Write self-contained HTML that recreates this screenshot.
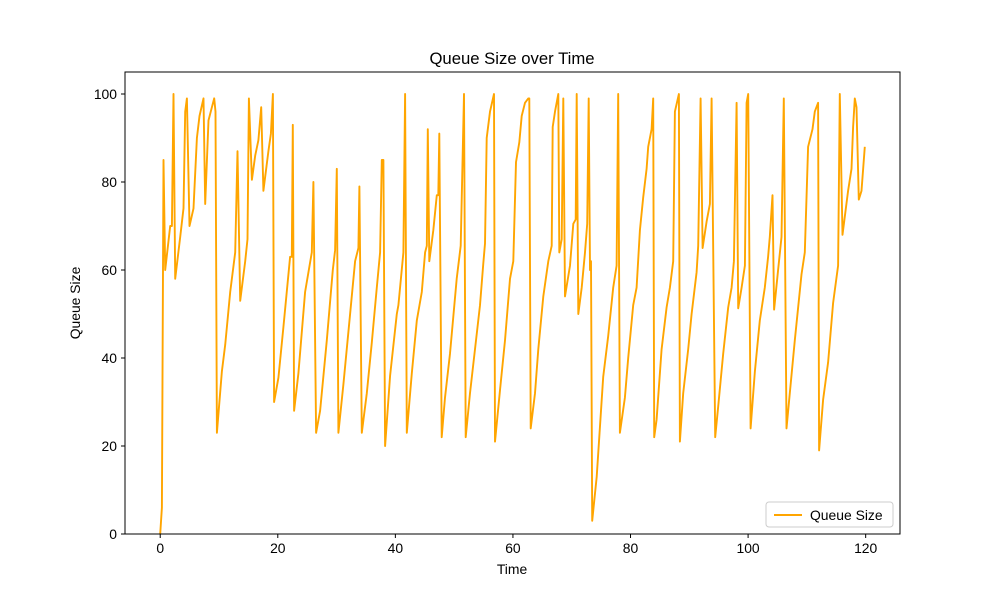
<!DOCTYPE html>
<html><head><meta charset="utf-8"><style>
body{margin:0;background:#fff;}
svg{display:block;font-family:"Liberation Sans","DejaVu Sans",sans-serif;}
</style></head><body>
<svg id="chart" width="1000" height="600">
<rect width="1000" height="600" fill="#fff"/>
<text x="512" y="64" text-anchor="middle" font-size="16.7">Queue Size over Time</text>
<text x="512" y="574" text-anchor="middle" font-size="13.9">Time</text>
<text transform="translate(80,303) rotate(-90)" text-anchor="middle" font-size="13.9">Queue Size</text>
<g id="ticks"></g>
<clipPath id="clip"><rect x="125" y="72" width="775" height="462"/></clipPath>
<polyline id="series" fill="none" stroke="#ffa500" stroke-width="1.9" stroke-linejoin="round" clip-path="url(#clip)"/>
<rect x="125" y="72" width="775" height="462" fill="none" stroke="#000" stroke-width="1"/>
<g>
<rect x="766" y="502" width="127" height="25" rx="3" fill="#fff" stroke="#ccc"/>
<line x1="774" y1="515" x2="802" y2="515" stroke="#ffa500" stroke-width="1.9"/>
<text x="810" y="520" font-size="13.9">Queue Size</text>
</g>
</svg>
<script>
const times=[0,0.29,0.56,0.85,1.70,1.99,2.26,2.55,3.40,3.96,4.25,4.54,4.98,5.66,6.24,6.68,7.36,7.65,8.21,8.79,9.18,9.40,9.64,10.49,11.05,11.9,12.75,13.14,13.6,14.45,14.84,15.08,15.59,16.15,16.71,17.17,17.56,18.41,18.82,19.16,19.38,20.11,20.96,22.1,22.39,22.56,22.78,23.51,24.65,25.79,26.06,26.52,27.2,28.34,29.36,29.75,30.04,30.31,31.16,32.3,33.15,33.71,33.88,34.29,35.14,35.99,36.84,37.4,37.69,37.96,38.25,39.1,40.24,40.51,41.36,41.65,41.94,42.79,43.64,44.49,45.05,45.34,45.51,45.78,46.46,47.04,47.31,47.48,47.89,48.45,49.3,50.44,51.12,51.68,51.97,52.7,53.55,54.4,54.96,55.25,55.54,56.1,56.78,56.95,57.8,58.65,59.5,60.06,60.52,61.08,61.49,62.05,62.61,62.78,63.02,63.75,64.31,65.16,66.01,66.59,66.76,67.15,67.71,67.88,68.29,68.56,68.85,69.7,70.26,70.67,70.84,71.11,71.69,72.25,72.64,72.88,73.1,73.27,73.49,74.24,75.36,76.21,77.06,77.64,77.91,78.2,79.05,79.61,80.46,81.04,81.6,82.16,82.74,83.01,83.59,83.86,84.03,84.44,85.29,86.14,86.7,87.26,87.55,88.23,88.4,88.96,89.81,90.39,91.24,91.51,91.92,92.26,92.94,93.5,93.79,94.4,94.91,95.76,96.61,97.19,97.58,98.04,98.31,98.89,99.45,99.74,100.01,100.42,101.15,102,102.85,103.41,103.7,104.16,104.43,105.11,105.69,106.08,106.54,107.1,107.95,109.09,109.65,110.21,110.96,111.35,111.91,112.08,112.76,113.61,114.46,115.31,115.6,116.06,117.01,117.59,117.86,118.15,118.44,118.83,119.29,119.85];
const queueSize=[0,6,85,60,70,70,100,58,67.5,74,96,99,70,74,90,95,99,75,94,97,99,96,23,37,43,55,64,87,53,62,67,99,80.5,86,89.5,97,78,87,91,100,30,35.5,47,63,63,93,28,36.5,55,64,80,23,28,44,60,64.5,83,23,34,50,62,65,79,23,32,43.5,56,64,85,85,20,36,50,52,64,100,23,36.5,48.5,55,64,65.5,92,62,69,77,77,91,22,31,41,58,65.5,100,22,32,42,52,61.5,66,90,96,100,21,32.7,44,58,62,84.5,89,95,98,99,99,24,32,42,54,62,65.5,92.5,96,100,64,67,99,54,61,70.5,71.5,100,50,56,64,70.5,99,60,62,3,13,35.7,45,56,61,100,23,31,40,52,56,69,76.5,83,88,92,99,22,26,42,51.5,56,62,96,100,21,32,42,50,59.5,65.5,99,65,71,75,99,22,29,41,51.5,56,62,98,51.3,56,61,98,100,24,37,48.5,56,63,67.5,77,51,60,67.5,99,24,32,44,59,64,88,92,96,98,19,30.5,39,52.5,61,100,68,78,83,92.5,99,97,76,78,88];
const xTicks=[0,20,40,60,80,100,120];
const yTicks=[0,20,40,60,80,100];
const X0=125,X1=900,Y0=534,Y1=72,xMin=-5.99,xMax=125.84,yMin=0,yMax=105;
function sx(v){return X0+(v-xMin)/(xMax-xMin)*(X1-X0);}
function sy(v){return Y0-(v-yMin)/(yMax-yMin)*(Y0-Y1);}
const ns="http://www.w3.org/2000/svg";
const g=document.getElementById('ticks');
xTicks.forEach(t=>{
  const l=document.createElementNS(ns,'line');
  l.setAttribute('x1',sx(t));l.setAttribute('x2',sx(t));l.setAttribute('y1',Y0);l.setAttribute('y2',Y0+4);l.setAttribute('stroke','#000');
  
  
  g.appendChild(l);
  const tx=document.createElementNS(ns,'text');
  tx.setAttribute('x',sx(t));tx.setAttribute('y',Y0+19);tx.setAttribute('text-anchor','middle');tx.setAttribute('font-size','13.9');tx.textContent=t;
  
  
  g.appendChild(tx);
});
yTicks.forEach(t=>{
  const l=document.createElementNS(ns,'line');
  l.setAttribute('x1',X0-4);l.setAttribute('x2',X0);l.setAttribute('y1',sy(t));l.setAttribute('y2',sy(t));l.setAttribute('stroke','#000');
  
  
  g.appendChild(l);
  const tx=document.createElementNS(ns,'text');
  tx.setAttribute('x',X0-8);tx.setAttribute('y',sy(t)+5);tx.setAttribute('text-anchor','end');tx.setAttribute('font-size','13.9');tx.textContent=t;
  
  
  g.appendChild(tx);
});
document.getElementById('series').setAttribute('points',times.map((t,i)=>sx(t).toFixed(1)+','+sy(queueSize[i]).toFixed(1)).join(' '));
</script>
</body></html>
